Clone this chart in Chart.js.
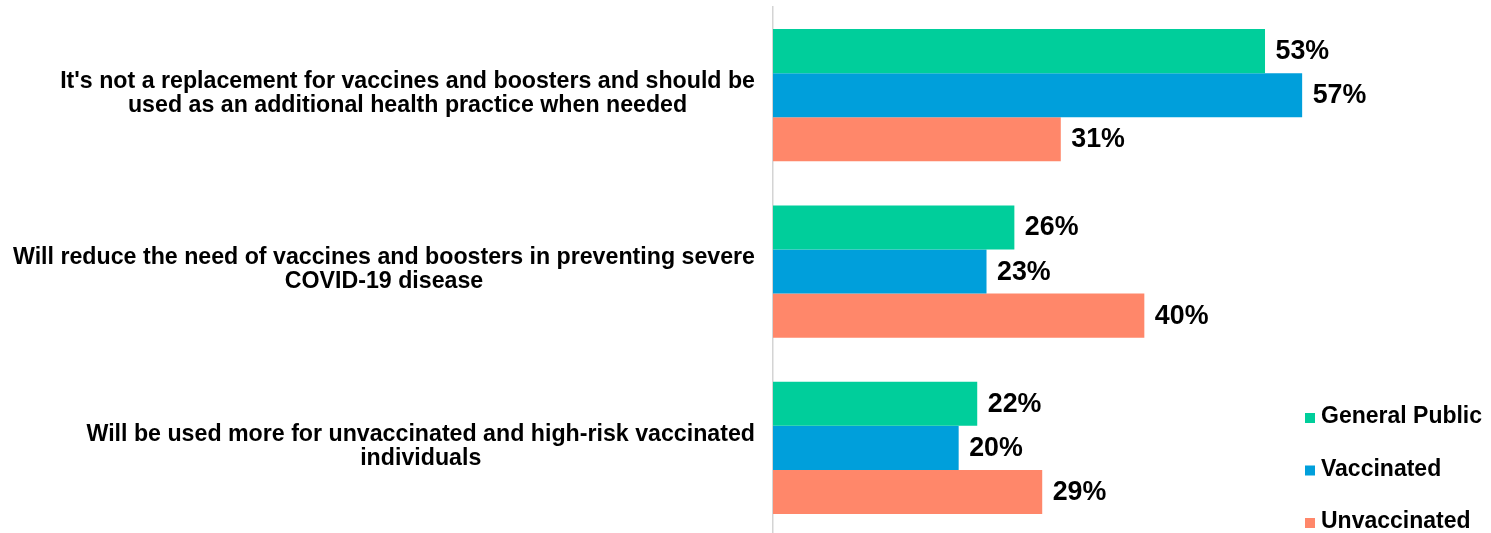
<!DOCTYPE html>
<html>
<head>
<meta charset="utf-8">
<script src="https://cdn.jsdelivr.net/npm/chart.js@4.4.1/dist/chart.umd.min.js"></script>
<style>
  html, body { margin: 0; padding: 0; background: #fff; overflow: hidden; }
  #wrap { position: relative; width: 1491px; height: 540px; }
</style>
</head>
<body>
<div id="wrap"><canvas id="c"></canvas></div>
<script>
const categories = [
  ["It's not a replacement for vaccines and boosters and should be", "used as an additional health practice when needed"],
  ["Will reduce the need of vaccines and boosters in preventing severe", "COVID-19 disease"],
  ["Will be used more for unvaccinated and high-risk vaccinated", "individuals"]
];
const seriesNames = ["General Public", "Vaccinated", "Unvaccinated"];
const generalPublic = [53, 26, 22];
const vaccinated = [57, 23, 20];
const unvaccinated = [31, 40, 29];
const seriesColors = ["#00CE9B", "#009FDB", "#FF876A"];

const FONT = '"Liberation Sans", Arial, Helvetica, sans-serif';

const drawPlugin = {
  id: 'customText',
  afterDatasetsDraw(chart) {
    const ctx = chart.ctx;
    const yScale = chart.scales.y;
    const area = chart.chartArea;
    ctx.save();
    ctx.fillStyle = '#000';
    // category labels: each block centered on its widest line, block right edge at axis - 18
    ctx.font = 'bold 23.2px ' + FONT;
    ctx.textAlign = 'center';
    ctx.textBaseline = 'alphabetic';
    categories.forEach((lines, i) => {
      const cy = yScale.getPixelForValue(i);
      const w = Math.max(...lines.map(l => ctx.measureText(l).width));
      const cx = area.left - 18 - w / 2;
      lines.forEach((l, k) => {
        const base = cy - 3.5 + (k - (lines.length - 1) / 2) * 24 + 8.2;
        ctx.fillText(l, cx, base);
      });
    });
    // value labels
    ctx.font = 'bold 26.8px ' + FONT;
    ctx.textAlign = 'left';
    chart.data.datasets.forEach((ds, di) => {
      const meta = chart.getDatasetMeta(di);
      meta.data.forEach((bar, j) => {
        ctx.fillText(ds.data[j] + '%', bar.x + 10.5, bar.y + 8);
      });
    });
    // legend
    const legendBase = [423, 475.5, 528];
    ctx.font = 'bold 23px ' + FONT;
    seriesNames.forEach((name, i) => {
      ctx.fillStyle = seriesColors[i];
      ctx.fillRect(1305, legendBase[i] - 10, 10, 10);
      ctx.fillStyle = '#000';
      ctx.fillText(name, 1321, legendBase[i]);
    });
    ctx.restore();
  }
};

new Chart(document.getElementById('c'), {
  type: 'bar',
  data: {
    labels: categories,
    datasets: [
      { label: seriesNames[0], data: generalPublic, backgroundColor: seriesColors[0] },
      { label: seriesNames[1], data: vaccinated, backgroundColor: seriesColors[1] },
      { label: seriesNames[2], data: unvaccinated, backgroundColor: seriesColors[2] }
    ]
  },
  options: {
    indexAxis: 'y',
    responsive: true,
    maintainAspectRatio: false,
    animation: false,
    layout: { padding: { top: 7, bottom: 4, left: 0, right: 161 } },
    datasets: { bar: { barPercentage: 1, categoryPercentage: 0.75, borderWidth: 0 } },
    plugins: { legend: { display: false }, tooltip: { enabled: false } },
    scales: {
      x: { display: false, min: 0, max: 60 },
      y: {
        grid: { display: false },
        border: { display: true, color: '#d4d4d4', width: 1.5 },
        ticks: { display: false },
        afterFit(scale) { scale.width = 773; }
      }
    }
  },
  plugins: [drawPlugin]
});
</script>
</body>
</html>
